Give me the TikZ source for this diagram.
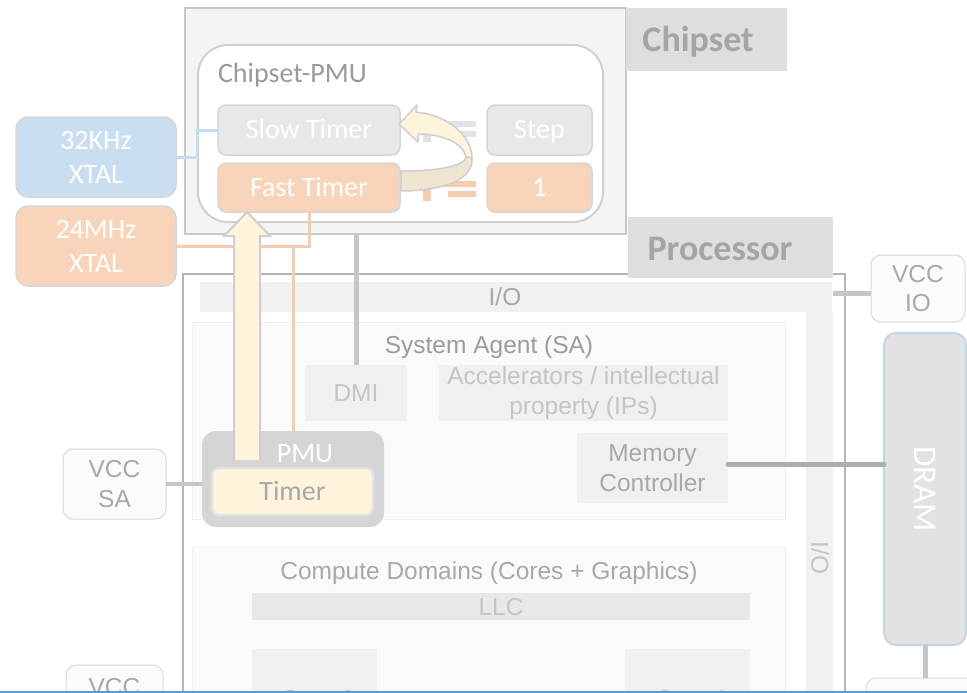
\documentclass[tikz,border=0pt]{standalone}
\usepackage{fontspec}
\usetikzlibrary{calc}
\setmainfont{Carlito}
\newfontfamily\arialfont{Liberation Sans}

\definecolor{chipFill}{HTML}{F4F4F4}
\definecolor{chipLine}{HTML}{C8C8C8}
\definecolor{labelFill}{HTML}{DEDEDE}
\definecolor{labelText}{HTML}{A5A5A5}
\definecolor{pmuLine}{HTML}{D0D0D0}
\definecolor{titleGray}{HTML}{9A9A9A}
\definecolor{slowFill}{HTML}{E8E8E8}
\definecolor{boxLine}{HTML}{D6D6D6}
\definecolor{peach}{HTML}{F8D4BA}
\definecolor{blueX}{HTML}{C9DEF0}
\definecolor{blueWire}{HTML}{C4DBF0}
\definecolor{peachWire}{HTML}{F7CCAE}
\definecolor{procLine}{HTML}{B4B4B4}
\definecolor{ioFill}{HTML}{F1F1F1}
\definecolor{saFill}{HTML}{FAFAFA}
\definecolor{saLine}{HTML}{EFEFEF}
\definecolor{blockFill}{HTML}{F0F0F0}
\definecolor{textLight}{HTML}{C4C4C4}
\definecolor{textMid}{HTML}{A8A8A8}
\definecolor{textDark}{HTML}{9C9C9C}
\definecolor{dramFill}{HTML}{E2E2E2}
\definecolor{dramLine}{HTML}{C3D6E8}
\definecolor{pmuFill}{HTML}{D5D5D5}
\definecolor{timerFill}{HTML}{FFF3DC}
\definecolor{timerLine}{HTML}{E3E3E3}
\definecolor{vccFill}{HTML}{FBFBFB}
\definecolor{vccLine}{HTML}{D9D9D9}
\definecolor{connGray}{HTML}{C6C6C6}
\definecolor{memConn}{HTML}{ADADAD}
\definecolor{arrowCream}{HTML}{FEF3DB}
\definecolor{arrowBack}{HTML}{EDE5CF}
\definecolor{arrowLine}{HTML}{CFCFCF}
\definecolor{llcFill}{HTML}{E8E8E8}
\definecolor{iconGray}{HTML}{E2E2E2}
\definecolor{bottomBlue}{HTML}{5B9BD5}

\tikzset{
  panel/.style={rectangle, inner sep=0pt, outer sep=0pt, align=center},
  carlitotext/.style={font=\fontsize{28}{34}\selectfont, text height=24pt, text depth=6pt},
  arialtext/.style={font=\arialfont\fontsize{24.5}{29.5}\selectfont},
  arialone/.style={arialtext, text height=22pt, text depth=4.5pt},
  timerbox/.style={panel, carlitotext, rounded corners=8pt, line width=1.5pt, draw=boxLine, text=white},
  xtalbox/.style={panel, font=\fontsize{28}{34}\selectfont, rounded corners=12pt, line width=1.5pt, draw=boxLine, text=white, minimum width=160pt, minimum height=80pt},
  vccbox/.style={panel, arialtext, rounded corners=10pt, line width=1pt, draw=vccLine, fill=vccFill, text=textMid},
  blockbox/.style={panel, fill=blockFill},
  labelbox/.style={panel, fill=labelFill},
  labeltext/.style={font=\bfseries\fontsize{36}{40}\selectfont, text=labelText, text height=27pt, text depth=4pt, inner sep=0pt},
  bluewire/.style={draw=blueWire, line width=3pt},
  peachwire/.style={draw=peachWire, line width=3pt},
  graywire/.style={draw=connGray, line width=5pt},
  bigarrow/.style={fill=arrowCream, draw=arrowLine, line width=2pt, line join=miter},
  every node/.style={inner sep=0pt, outer sep=0pt}
}

\begin{document}
\begin{tikzpicture}[x=1pt, y=-1pt]
\useasboundingbox (0,0) rectangle (967,693);
\clip (0,0) rectangle (967,693);
\fill[white] (0,0) rectangle (967,693);

% ---------------- processor ----------------
\node[panel, draw=procLine, line width=1.5pt, fill=white, anchor=north west,
      minimum width=662pt, minimum height=446pt] (proc) at (183,274) {};
\node[labelbox, minimum width=205pt, minimum height=61pt] (proclbl) at (730.5,247.5) {};
\node[labeltext] (proclbltext) at (720,249) {Processor};

% I/O ring
\node[panel, fill=ioFill, anchor=north west, minimum width=632pt, minimum height=30pt] (iotop) at (200,282) {};
\node[arialone, text=textMid] (iotoptext) at (505,297) {I/O};
\node[panel, fill=ioFill, anchor=north west, minimum width=27pt, minimum height=420pt] (ioright) at (806,312) {};
\node[arialone, text=textLight, rotate=-90] (iorighttext) at (820,558) {I/O};

% system agent
\node[panel, fill=saFill, draw=saLine, line width=1pt, anchor=north west,
      minimum width=593pt, minimum height=197pt] (sa) at (192,322) {};
\node[arialone, text=textDark] (satitle) at (489,345) {System Agent (SA)};
\node[blockbox, arialone, text=textLight, minimum width=102pt, minimum height=56pt] (dmi) at (356,393) {DMI};
\node[blockbox, arialtext, text=textLight, minimum width=289pt, minimum height=56pt] (accel) at (583.5,393)
  {Accelerators / intellectual\\property (IPs)};
\node[blockbox, arialtext, text=textMid, minimum width=151pt, minimum height=70pt] (memctrl) at (652.5,468)
  {Memory\\Controller};

% compute domains
\node[panel, fill=saFill, draw=saLine, line width=1pt, anchor=north west,
      minimum width=593pt, minimum height=180pt] (compute) at (192,547) {};
\node[arialone, text=textMid] (computetitle) at (489,571) {Compute Domains (Cores + Graphics)};
\node[panel, fill=llcFill, arialone, text=textLight, minimum width=498pt, minimum height=23pt] (llc) at (501,606.5) {LLC};
\node[blockbox, anchor=north west, minimum width=125pt, minimum height=80pt] (core0) at (252,649) {};
\node[blockbox, anchor=north west, minimum width=125pt, minimum height=80pt] (core1) at (625,649) {};
\node[arialtext, text=textLight, anchor=base] (core0text) at (318,707) {Core 0};
\node[arialtext, text=textLight, anchor=base] (core1text) at (692,707) {Core 1};

% supplies and memory
\node[vccbox, minimum width=94pt, minimum height=67pt] (vccio) at (918,288.5) {VCC\\IO};
\node[vccbox, minimum width=103pt, minimum height=70pt] (vccsa) at (114.5,484) {VCC\\SA};
\node[vccbox, anchor=north west, minimum width=97pt, minimum height=60pt] (vccbot) at (66,665) {};
\node[arialtext, text=textMid, anchor=base] (vccbottext) at (114.5,695) {VCC};
\node[panel, fill=dramFill, draw=dramLine, line width=2pt, rounded corners=12pt,
      minimum width=82pt, minimum height=312pt] (dram) at (925,489) {};
\node[font=\fontsize{33}{36}\selectfont, text=white, rotate=-90] (dramtext) at (925,489) {DRAM};
\node[vccbox, anchor=north west, minimum width=110pt, minimum height=60pt] (botbox) at (866,678) {};

\coordinate (ioedge) at (833,293);
\draw[graywire] (ioedge) -- (ioedge -| vccio.west);
\coordinate (memport) at ($(memctrl.east)+(0,-4)$);
\draw[draw=memConn, line width=5pt, line cap=round] (memport) -- (memport -| dram.west);
\draw[graywire] (dram.south) -- (dram.south |- botbox.north);

% PMU with its timer
\node[panel, fill=pmuFill, rounded corners=14pt, minimum width=182pt, minimum height=96pt] (pmu) at (293,479) {};
\node[carlitotext, text=white] (pmutext) at (305,453) {PMU};
\node[panel, carlitotext, fill=timerFill, draw=timerLine, line width=2.5pt, rounded corners=7pt,
      text=textMid, minimum width=161pt, minimum height=47pt] (timer) at (292.5,491.5) {Timer};
\draw[graywire, line width=4pt] (vccsa.east) -- (vccsa.east -| pmu.west);

% ---------------- chipset ----------------
\node[panel, fill=chipFill, draw=chipLine, line width=1.5pt, minimum width=441pt, minimum height=226pt] (chipset) at (405.5,121) {};
\node[labelbox, minimum width=161pt, minimum height=63pt] (chiplbl) at (706.5,39.5) {};
\node[labeltext] (chiplbltext) at (698,40) {Chipset};

\node[panel, fill=white, draw=pmuLine, line width=2pt, rounded corners=30pt,
      minimum width=405pt, minimum height=177pt] (cpmu) at (400.5,133.5) {};
\node[carlitotext, text=titleGray, anchor=west] (cpmutitle) at (218,73) {Chipset-PMU};

\node[timerbox, fill=slowFill, minimum width=182pt, minimum height=50pt] (slow) at (309,130) {Slow Timer};
\node[timerbox, fill=peach, minimum width=182pt, minimum height=49pt] (fast) at (309,187.5) {Fast Timer};
\node[timerbox, fill=slowFill, minimum width=105pt, minimum height=50pt] (stepval) at (539.5,130) {Step};
\node[timerbox, fill=peach, minimum width=105pt, minimum height=49pt] (oneval) at (539.5,187.5) {1};

% small adder glyphs between the registers
\fill[iconGray] (423,121) rectangle (476,127);
\fill[iconGray] (447,131) rectangle (476,137);
\fill[iconGray] (423,127) rectangle (431,142);
\fill[peachWire] (423,181) rectangle (476,187);
\fill[peachWire] (448,191) rectangle (476,197);
\fill[peachWire] (423,187) rectangle (431,201);

% looping arrow: fast timer feeds the slow timer
\filldraw[fill=arrowCream, draw=arrowLine, line width=1.5pt, line join=round]
  (399,124) -- (417,105) -- (416,112)
  .. controls (448,115) and (472,136) .. (472,158)
  -- (466,157)
  .. controls (463,143) and (443,134) .. (418,134)
  -- (418,142) -- cycle;
\filldraw[fill=arrowBack, draw=arrowLine, line width=1.5pt, line join=round]
  (401,171) .. controls (438,171) and (465,166) .. (466,157)
  -- (472,158)
  .. controls (474,180) and (442,191) .. (401,191) -- cycle;

% crystals
\node[xtalbox, fill=blueX] (x32) at (96,157) {32KHz\\XTAL};
\node[xtalbox, fill=peach] (x24) at (96,246) {24MHz\\XTAL};

\draw[bluewire] (x32.east) -- ++(21,0) |- (slow.west);
\draw[peachwire] (x24.east) -| (fast.south);
\coordinate (pbranch) at (293,246);
\draw[peachwire] (pbranch) -- (pbranch |- pmu.north);

\draw[graywire] (chipset.south -| dmi.north) -- (dmi.north);

% wide arrow from the PMU timer up to the fast timer
\coordinate (uptip) at (247,212);
\coordinate (upbase) at (247,460);
\filldraw[bigarrow]
  ($(upbase)+(-13,0)$) -- ($(uptip)+(-13,24)$) -- ($(uptip)+(-23,24)$) -- (uptip)
  -- ($(uptip)+(23,24)$) -- ($(uptip)+(13,24)$) -- ($(upbase)+(13,0)$);

% page rule along the bottom edge
\coordinate (ruleL) at (0,691.5);
\coordinate (ruleR) at (967,691.5);
\draw[bottomBlue, line width=2pt] (ruleL) -- (ruleR);
\end{tikzpicture}
\end{document}
